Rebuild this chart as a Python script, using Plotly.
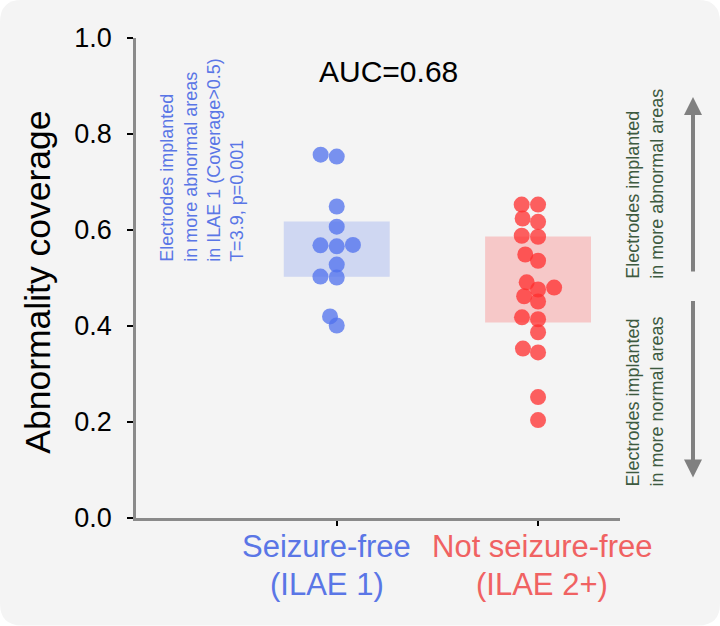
import numpy as np
import plotly.graph_objects as go

# ---------------- data ----------------
categories = [0, 1]
cat_labels = [("Seizure-free", "(ILAE 1)"), ("Not seizure-free", "(ILAE 2+)")]
seizure_free = [0.757, 0.753, 0.649, 0.607, 0.568, 0.566, 0.569, 0.528, 0.503, 0.501, 0.420, 0.401]
not_seizure_free = [0.653, 0.653, 0.624, 0.617, 0.588, 0.586, 0.549, 0.536, 0.491, 0.480,
                    0.476, 0.462, 0.451, 0.418, 0.414, 0.387, 0.353, 0.345, 0.252, 0.204]
y_ticks = [0.0, 0.2, 0.4, 0.6, 0.8, 1.0]
y_title = "Abnormality coverage"
auc_text = "AUC=0.68"
stat_text = "Electrodes implanted<br>in more abnormal areas<br>in ILAE 1 (Coverage>0.5)<br>T=3.9, p=0.001"
up_text = "Electrodes implanted<br>in more abnormal areas"
down_text = "Electrodes implanted<br>in more normal areas"

# ---------------- style ----------------
W, H = 720, 626
ML, MR, MT, MB = 136, 100, 38, 107.5
PW, PH = W - ML - MR, H - MT - MB
XR = [-0.997, 1.407]
BLUE_PT = "rgba(79,112,238,0.75)"
RED_PT = "rgba(255,45,45,0.75)"
BLUE_BOX = "rgba(79,112,238,0.22)"
RED_BOX = "rgba(255,45,45,0.22)"
BLUE_TXT = "#5a76e6"
RED_TXT = "#f06262"
GREEN_TXT = "#3d5a40"
FONT = "Liberation Sans, Arial, sans-serif"
LABEL_XSHIFT = [-10, 4]


def px2x(px):
    return (px - ML) / PW


def py2y(py):
    return ((H - MB) - py) / PH


def swarm_offsets(vals, d=10.0, ypx=PH, xstretch=1.56):
    """seaborn-like beeswarm; returns x offsets in data units"""
    vals = np.asarray(vals, float)
    order = np.argsort(vals, kind="stable")
    placed = []
    xs = np.zeros(len(vals))
    for i in order:
        y = vals[i] * ypx
        neigh = [p for p in reversed(placed) if abs(p[1] - y) < d]
        cands = [0.0]
        left_first = True
        for xj, yj in neigh:
            dy = y - yj
            dx = np.sqrt(max(d * d - dy * dy, 0)) * 1.05
            cl, cr = xj - dx, xj + dx
            cands += [cl, cr] if left_first else [cr, cl]
            left_first = not left_first
        cands = np.array(cands)
        cands = cands[np.argsort(np.abs(cands), kind="stable")]
        chosen = cands[-1]
        for c in cands:
            if all((c - xj) ** 2 + (y - yj) ** 2 >= d * d - 1e-6 for xj, yj in neigh):
                chosen = c
                break
        placed.append((chosen, y))
        xs[i] = chosen
    px_per_unit = PW / (XR[1] - XR[0])
    return xs * xstretch / px_per_unit


fig = go.Figure()

groups = [(seizure_free, BLUE_PT, BLUE_BOX, BLUE_TXT), (not_seizure_free, RED_PT, RED_BOX, RED_TXT)]
for k, (cat, (vals, pc, bc, tc)) in enumerate(zip(categories, groups)):
    q1, q3 = np.percentile(vals, [25, 75])
    fig.add_shape(type="rect", xref="x", yref="y", x0=cat - 0.263, x1=cat + 0.263,
                  y0=q1, y1=q3, fillcolor=bc, line_width=0, layer="below")
    offs = swarm_offsets(vals)
    fig.add_trace(go.Scatter(x=cat + offs, y=vals, mode="markers",
                             marker=dict(size=16, color=pc, line_width=0),
                             showlegend=False, hoverinfo="y"))
    # category label (two lines)
    for line, ypix in zip(cat_labels[k], [547, 585]):
        fig.add_annotation(text=line, x=cat, xref="x", y=py2y(ypix), yref="paper",
                           xanchor="center", yanchor="middle", showarrow=False,
                           xshift=LABEL_XSHIFT[k],
                           font=dict(size=31, color=tc, family=FONT))

# rounded background
r = 22
rx, ry = r / PW, r / PH
x0, x1, y0, y1 = px2x(0), px2x(W), py2y(H), py2y(0)
path = (f"M {x0+rx},{y1} L {x1-rx},{y1} Q {x1},{y1} {x1},{y1-ry} "
        f"L {x1},{y0+ry} Q {x1},{y0} {x1-rx},{y0} L {x0+rx},{y0} "
        f"Q {x0},{y0} {x0},{y0+ry} L {x0},{y1-ry} Q {x0},{y1} {x0+rx},{y1} Z")
fig.add_shape(type="path", path=path, xref="paper", yref="paper",
              fillcolor="#f4f4f4", line_width=0, layer="below")

# annotations
ann = dict(xref="paper", yref="paper", showarrow=False, xanchor="center", yanchor="middle")
fig.add_annotation(text=y_title, x=px2x(38), y=py2y(283), textangle=-90,
                   font=dict(size=35.5, color="black", family=FONT), **ann)
fig.add_annotation(text=auc_text, x=px2x(388), y=py2y(72),
                   font=dict(size=30, color="black", family=FONT), **ann)
fig.add_annotation(text=stat_text, x=px2x(202), y=py2y(160), textangle=-90, align="left",
                   font=dict(size=18, color=BLUE_TXT, family=FONT), **ann)
fig.add_annotation(text=up_text, x=px2x(645), y=py2y(184), textangle=-90, align="left",
                   font=dict(size=18, color=GREEN_TXT, family=FONT), **ann)
fig.add_annotation(text=down_text, x=px2x(645), y=py2y(402), textangle=-90, align="left",
                   font=dict(size=18, color=GREEN_TXT, family=FONT), **ann)
# arrows
fig.add_annotation(text="", x=px2x(693), y=py2y(97), xref="paper", yref="paper",
                   ax=0, ay=176, showarrow=True, arrowhead=2, arrowsize=0.9,
                   arrowwidth=4, arrowcolor="#808080", standoff=0, startstandoff=0)
fig.add_annotation(text="", x=px2x(693), y=py2y(478), xref="paper", yref="paper",
                   ax=0, ay=-178, showarrow=True, arrowhead=2, arrowsize=0.9,
                   arrowwidth=4, arrowcolor="#808080", standoff=0, startstandoff=0)

fig.update_layout(
    width=W, height=H,
    margin=dict(l=ML, r=MR, t=MT, b=MB, pad=0, autoexpand=False),
    paper_bgcolor="white", plot_bgcolor="rgba(0,0,0,0)",
    font=dict(family=FONT, color="black"),
    xaxis=dict(range=XR, tickvals=categories, showticklabels=False, showgrid=False,
               zeroline=False, showline=True, linecolor="#8a8a8a", linewidth=2.5,
               ticks="outside", ticklen=5, tickwidth=1.5, tickcolor="black",
               automargin=False),
    yaxis=dict(range=[0, 1], tickvals=y_ticks, tickformat=".1f", showgrid=False,
               zeroline=False, showline=True, linecolor="#8a8a8a", linewidth=2.5,
               ticks="outside", ticklen=6, tickwidth=1.5, tickcolor="black",
               ticklabelstandoff=10, automargin=False,
               tickfont=dict(size=27, family=FONT)),
)

fig.write_html("out.html", post_script="document.body.style.margin='0';",
               config={"displayModeBar": False})
